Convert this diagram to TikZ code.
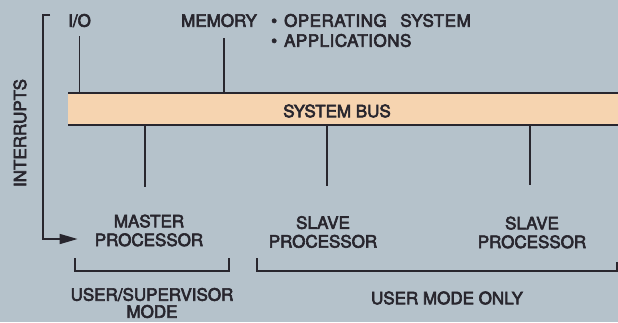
\documentclass[tikz,border=0pt]{standalone}
\usepackage{fontspec}
\setmainfont{TeX Gyre Heros}
\usetikzlibrary{arrows.meta}
\definecolor{bgc}{RGB}{181,194,203}
\definecolor{busc}{RGB}{246,212,176}
\definecolor{inkc}{RGB}{40,38,46}
\newcommand{\medweight}{\special{pdf:literal direct 2 Tr 0.6 w}}
\tikzset{
  lbl/.style={inner sep=0pt, text=inkc, font=\fontsize{17}{18.7}\selectfont\medweight, align=center},
  wide/.style={font=\fontsize{17}{18.7}\selectfont\addfontfeature{LetterSpace=3}\medweight},
  conn/.style={draw=inkc, line width=1.5pt},
  busline/.style={draw=inkc, line width=2pt},
  busbox/.style={fill=busc, inner sep=0pt},
  brack/.style={draw=inkc, line width=2pt, line join=miter},
  irq/.style={draw=inkc, line width=1.6pt, -{Triangle[length=18pt,width=10pt]}}
}
\begin{document}
\begin{tikzpicture}[x=1pt,y=-1pt]
\useasboundingbox (0,0) rectangle (618,322);
\fill[bgc] (0,0) rectangle (618,322);
% system bus
\node[busbox, anchor=north west, minimum width=560pt, minimum height=32pt] (bus) at (68,93) {};
\draw[busline] (bus.north west) -- (bus.north east);
\draw[busline] (bus.south west) -- (bus.south east);
\node[lbl] (bustext) at (337,111) {SYSTEM BUS};
% top labels
\node[lbl, anchor=base west] (io) at (68,26.7) {I/O};
\node[lbl, anchor=base west] (mem) at (181,26.7) {MEMORY};
\node[lbl, wide, anchor=base west] (os) at (271,26.7) {\textbullet\hspace{7pt}OPERATING\hspace{0.8em}SYSTEM};
\node[lbl, wide, anchor=base west] (apps) at (271,46.7) {\textbullet\hspace{7pt}APPLICATIONS};
\coordinate (iotop) at ([yshift=-9pt]io.south);
\coordinate (memtop) at ([xshift=5pt,yshift=-11pt]mem.south);
\draw[conn] (iotop) -- (iotop |- bus.north);
\draw[conn] (memtop) -- (memtop |- bus.north);
% processors
\node[lbl] (master) at (149,230.5) {MASTER\\PROCESSOR};
\node[lbl] (slave1) at (323,232) {SLAVE\\PROCESSOR};
\node[lbl] (slave2) at (532,232.5) {SLAVE\\PROCESSOR};
\coordinate (mtop) at (145,187);
\coordinate (s1top) at (327,186);
\coordinate (s2top) at (530,185);
\draw[conn] (bus.south -| mtop) -- (mtop);
\draw[conn] (bus.south -| s1top) -- (s1top);
\draw[conn] (bus.south -| s2top) -- (s2top);
% interrupts
\node[lbl, rotate=90] (intr) at (20,133) {INTERRUPTS};
\coordinate (irqtick) at (50,15);
\coordinate (irqcorner) at (43,15);
\coordinate (irqend) at ([xshift=-17pt,yshift=-8.5pt]master.west);
\draw[irq] (irqtick) -- (irqcorner) |- (irqend);
% brackets
\coordinate (b1l) at (75,258);
\coordinate (b1r) at (229,258);
\coordinate (b2l) at (257,258);
\coordinate (b2r) at (617,262);
\draw[brack] (b1l) -- ++(0,13) -| (b1r);
\draw[brack] (b2l) -- ++(0,13) -| (b2r);
\node[lbl, font=\fontsize{17}{17}\selectfont\medweight] (usersup) at (152,303) {USER/SUPERVISOR\\MODE};
\node[lbl] (useronly) at (447,298) {USER MODE ONLY};
\end{tikzpicture}
\end{document}
